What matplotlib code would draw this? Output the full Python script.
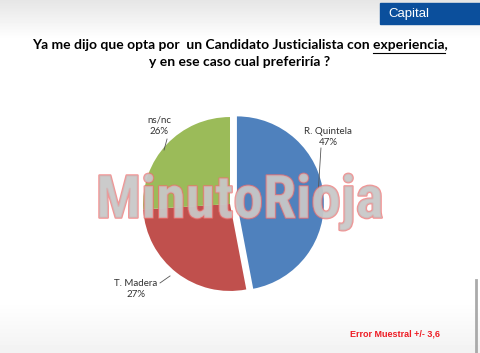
import matplotlib.pyplot as plt
import matplotlib.patheffects as pe
import numpy as np

labels = ["R. Quintela", "T. Madera", "ns/nc"]
values = [47, 27, 26]
colors = ["#4f81bd", "#c0504d", "#9bbb59"]

W, H = 480, 353
fig = plt.figure(figsize=(W / 100, H / 100), dpi=100)

# background gradient
bg = fig.add_axes([0, 0, 1, 1])
grad = np.ones((H, 1))
grad[:40, 0] = np.linspace(0.90, 1.0, 40)
grad[300:, 0] = np.linspace(1.0, 0.95, H - 300)
bg.imshow(grad, cmap="gray", vmin=0, vmax=1, aspect="auto", extent=[0, W, H, 0])
bg.set_xlim(0, W)
bg.set_ylim(H, 0)
bg.axis("off")
bg.set_zorder(0)

# "Capital" tab
bg.add_patch(plt.Rectangle((380, 3), 100, 21, color="#0b4f9c"))
bg.text(388, 14, "Capital", color="white", fontsize=9.5, family="Liberation Sans", va="center")
bg.plot([476, 476], [280, 353], color="#aaaaaa", lw=2)

title1 = "Ya me dijo que opta por  un Candidato Justicialista con experiencia,"
prefix = "Ya me dijo que opta por  un Candidato Justicialista con "
word = "experiencia"
tkw = dict(fontsize=10, fontweight="bold", family="Lato")
t1 = bg.text(240, 45, title1, ha="center", va="center", **tkw)
bg.text(240, 62, "y en ese caso cual preferiría ?", ha="center", va="center", **tkw)

# underline "experiencia" measured from the rendered text
rend = fig.canvas.get_renderer()
full_w = t1.get_window_extent(rend).width
tmp = bg.text(0, 0, prefix.rstrip() + " ", **tkw)
pre_w = tmp.get_window_extent(rend).width
tmp.set_text(prefix + word)
word_end = tmp.get_window_extent(rend).width
tmp.remove()
x_start = 240 - full_w / 2
bg.plot([x_start + pre_w, x_start + word_end], [52.5, 52.5], color="black", lw=0.8)

bg.text(395, 334, "Error Muestral +/- 3,6", ha="center", va="center", color="#ee1c24",
        fontsize=6.5, fontweight="bold", family="Liberation Sans")

# pie
cx, cy, r = 230, 204, 87
ax = fig.add_axes([(cx - 100) / W, (H - cy - 100) / H, 200 / W, 200 / H])
ax.set_zorder(1)
ax.pie(values, colors=colors, startangle=90, counterclock=False,
       explode=[0.08, 0, 0], radius=1)
s = 2.3 / 2
ax.set_xlim(-s, s)
ax.set_ylim(-s, s)
ax.axis("off")


def px(x, y):
    return (x - cx) / r, (cy - y) / r


label_pos = [(328, 137), (136, 289), (159, 126)]
leaders = [[(321, 148), (318, 196)], [(160, 283), (170, 276)], [(167, 139), (164, 150)]]
for lab, v, pos, ld in zip(labels, values, label_pos, leaders):
    ax.text(*px(*pos), f"{lab}\n{v}%", ha="center", va="center", fontsize=7,
            family="Lato", color="#333333", linespacing=1.3)
    (x0, y0), (x1, y1) = px(*ld[0]), px(*ld[1])
    ax.plot([x0, x1], [y0, y1], color="#555555", lw=0.6)

# watermark on top of everything
fig.text(240 / W, 1 - 202 / H, "MinutoRioja", ha="center", va="center", fontsize=43,
         fontweight="bold", family=["Roboto Condensed", "Roboto"], color="#c8c8c8",
         alpha=0.75, zorder=10,
         path_effects=[pe.Stroke(linewidth=1.5, foreground="#f07070"), pe.Normal()])

fig.savefig("out.png", dpi=100)
